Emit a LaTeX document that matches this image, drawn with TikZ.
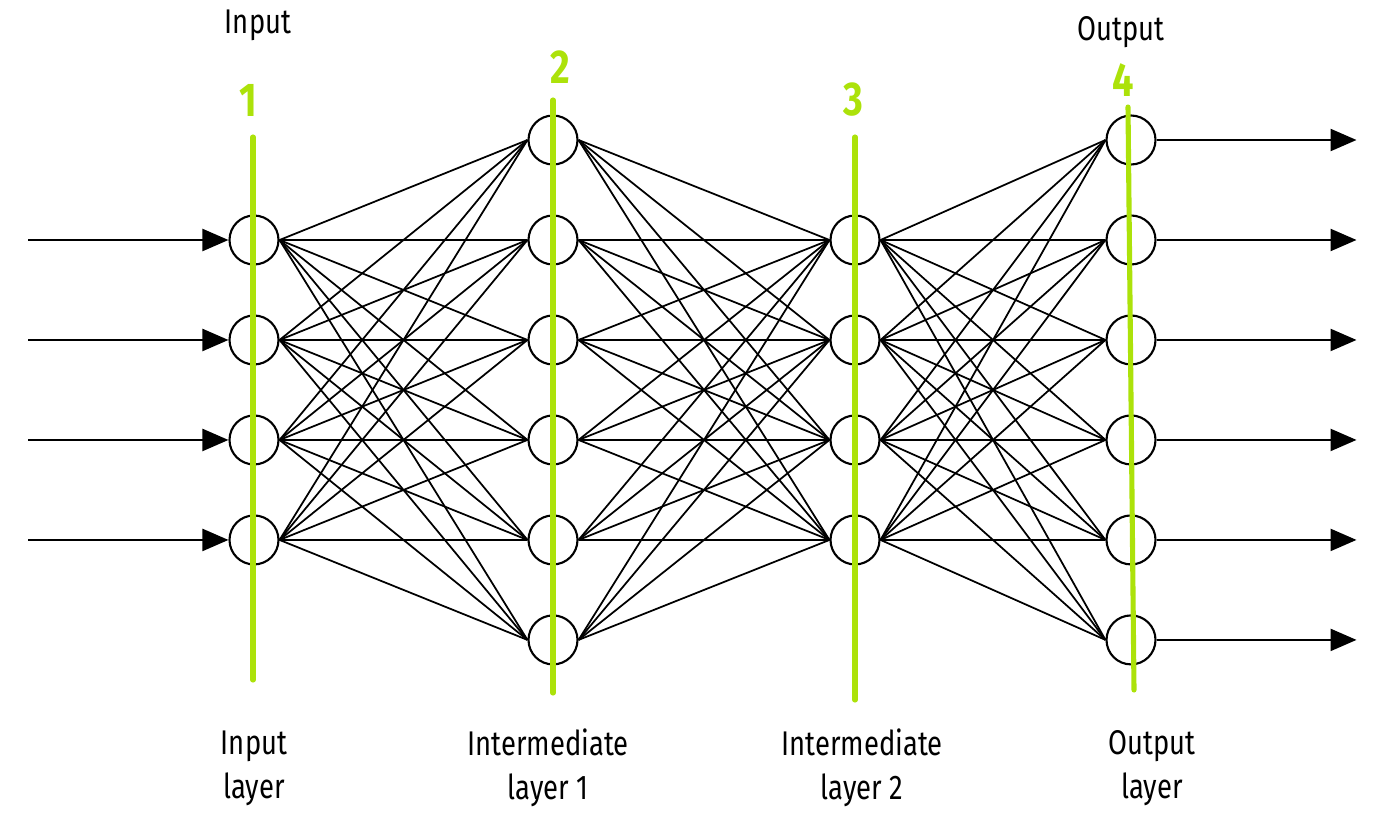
\documentclass[tikz,border=0pt]{standalone}
\usepackage{fontspec}
\setmainfont{Fira Sans}[FakeStretch=0.8]
\usetikzlibrary{arrows.meta}
\usetikzlibrary{positioning}
\definecolor{layergreen}{RGB}{172,226,10}
\tikzset{
    neuron/.style={
           circle,
           draw=black, line width=1.2pt,
           minimum size=0.98cm,
           inner sep=0pt,
           },
    layerline/.style={draw=layergreen, line width=2.9pt, line cap=round},
    layernum/.style={text=layergreen, font=\bfseries\fontsize{27}{27}\selectfont},
    caption/.style={align=center, font=\fontsize{19.5}{25}\selectfont},
}

\begin{document}
\begin{tikzpicture}[x=0.02cm,y=-0.02cm,>={Triangle[length=0.52cm,width=0.44cm]},node distance=2cm]
	\useasboundingbox (0,0) rectangle (1385,825);

	% input layer
	\node[neuron] (i1) at (254,240) {};
	\node[neuron] (i2) [below of=i1] {};
	\node[neuron] (i3) [below of=i2] {};
	\node[neuron] (i4) [below of=i3] {};

	% intermediate layer 1
	\node[neuron] (h1) at (553,140) {};
	\node[neuron] (h2) [below of=h1] {};
	\node[neuron] (h3) [below of=h2] {};
	\node[neuron] (h4) [below of=h3] {};
	\node[neuron] (h5) [below of=h4] {};
	\node[neuron] (h6) [below of=h5] {};

	% intermediate layer 2
	\node[neuron] (g1) at (855,240) {};
	\node[neuron] (g2) [below of=g1] {};
	\node[neuron] (g3) [below of=g2] {};
	\node[neuron] (g4) [below of=g3] {};

	% output layer
	\node[neuron] (o1) at (1131,140) {};
	\node[neuron] (o2) [below of=o1] {};
	\node[neuron] (o3) [below of=o2] {};
	\node[neuron] (o4) [below of=o3] {};
	\node[neuron] (o5) [below of=o4] {};
	\node[neuron] (o6) [below of=o5] {};

	% inputs and outputs
	\foreach \k in {1,...,4}
		\coordinate (in\k) at ([xshift=-4cm]i\k.west);
	\foreach \k in {1,...,6}
		\coordinate (out\k) at ([xshift=4cm]o\k.east);
	\foreach \k in {1,...,4}
		\draw[->, line width=1.3pt] (in\k) -- (i\k.west);
	\foreach \k in {1,...,6}
		\draw[->, line width=1.3pt] (o\k.east) -- (out\k);

	% weights
	\foreach \a in {1,...,4}
		\foreach \b in {1,...,6}
			\draw[line width=1pt] (i\a.east) -- (h\b.west);
	\foreach \a in {1,...,6}
		\foreach \b in {1,...,4}
			\draw[line width=1pt] (h\a.east) -- (g\b.west);
	\foreach \a in {1,...,4}
		\foreach \b in {1,...,6}
			\draw[line width=1pt] (g\a.east) -- (o\b.west);

	% green markers
	\coordinate (t1) at (253,137);  \coordinate (b1) at (253,680);
	\coordinate (t2) at (553,100);  \coordinate (b2) at (553,693);
	\coordinate (t3) at (855,137);  \coordinate (b3) at (855,700);
	\coordinate (t4) at (1128,107); \coordinate (b4) at (1134,690);
	\foreach \k in {1,...,4}
		\draw[layerline] (t\k) -- (b\k);
	\node[layernum] (n1) at (248,100) {1};
	\node[layernum] (n2) at (560,67)  {2};
	\node[layernum] (n3) at (853,100) {3};
	\node[layernum] (n4) at (1123,80) {4};

	% captions
	\node[caption] (top1) at (258,25)   {Input};
	\node[caption] (top4) at (1121,32)  {Output};
	\node[caption] (cap1) at (254,768)  {Input\\layer};
	\node[caption] (cap2) at (548,768)  {Intermediate\\layer 1};
	\node[caption] (cap3) at (862,768)  {Intermediate\\layer 2};
	\node[caption] (cap4) at (1152,768) {Output\\layer};

\end{tikzpicture}
\end{document}
